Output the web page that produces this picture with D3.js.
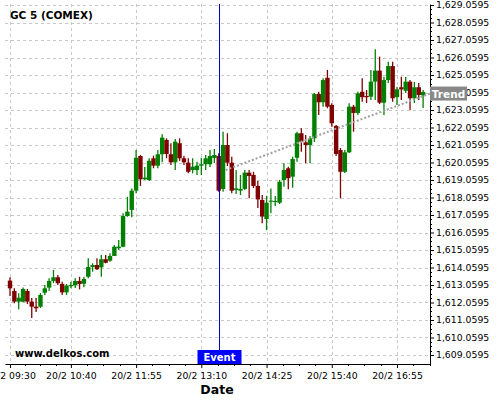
<!DOCTYPE html>
<html><head><meta charset="utf-8">
<script src="https://cdn.jsdelivr.net/npm/d3@7"></script>
<style>body{margin:0;background:#fff}svg{display:block}text{font-family:"DejaVu Sans",sans-serif}</style>
</head><body>
<svg id="c" width="500" height="400"></svg>
<script>
const times = ["09:30","09:35","09:40","09:45","09:50","09:55",
"10:00","10:05","10:10","10:15","10:20","10:25","10:30","10:35","10:40","10:45","10:50","10:55",
"11:00","11:05","11:10","11:15","11:20","11:25","11:30","11:35","11:40","11:45","11:50","11:55",
"12:00","12:05","12:10","12:15","12:20","12:25","12:30","12:35","12:40","12:45","12:50","12:55",
"13:00","13:05","13:10","13:15","13:20","13:25","13:30","13:35","13:40","13:45","13:50","13:55",
"14:00","14:05","14:10","14:15","14:20","14:25","14:30","14:35","14:40","14:45","14:50","14:55",
"15:00","15:05","15:10","15:15","15:20","15:25","15:30","15:35","15:40","15:45","15:50","15:55",
"16:00","16:05","16:10","16:15","16:20","16:25","16:30","16:35","16:40","16:45","16:50","16:55",
"17:00","17:05","17:10","17:15","17:20","17:25"];
const open = [1613.31,1612.72,1612.11,1612.11,1612.72,1612.11,1611.82,1611.82,1612.62,1612.91,
1613.29,1613.50,1613.12,1612.64,1612.99,1613.04,1613.29,1613.13,1613.53,1614.09,
1614.20,1614.07,1614.53,1614.45,1614.72,1615.16,1615.25,1617.00,1617.35,1618.45,
1620.43,1619.10,1619.06,1620.30,1619.88,1620.53,1621.35,1620.53,1620.07,1621.16,
1620.30,1620.05,1619.63,1619.63,1619.88,1619.96,1619.96,1620.32,1620.43,1618.55,
1621.06,1620.05,1618.49,1618.45,1618.55,1619.48,1619.35,1618.72,1617.92,1616.83,
1617.82,1617.80,1617.76,1619.06,1619.73,1619.25,1620.33,1621.73,1621.21,1621.06,
1621.44,1623.97,1623.50,1624.90,1623.35,1622.15,1620.77,1619.53,1620.64,1623.25,
1622.89,1624.10,1623.86,1623.82,1624.68,1625.31,1623.48,1624.77,1625.57,1623.79,
1624.36,1624.16,1624.68,1623.73,1624.36,1623.90];
const high = [1613.50,1612.87,1612.59,1612.91,1612.83,1612.32,1612.32,1612.60,1613.06,1613.44,
1613.92,1613.63,1613.25,1613.12,1613.25,1613.44,1613.53,1613.53,1614.59,1614.30,
1614.59,1614.77,1614.77,1614.87,1615.35,1615.63,1617.16,1618.10,1618.58,1620.77,
1620.49,1619.80,1620.30,1620.45,1620.77,1621.67,1621.44,1621.16,1621.40,1621.44,
1620.45,1620.30,1620.30,1620.10,1620.33,1620.49,1620.77,1620.83,1620.59,1621.82,
1621.73,1620.39,1619.63,1619.35,1619.63,1619.63,1619.53,1619.00,1618.20,1618.15,
1618.58,1618.14,1619.06,1620.01,1619.82,1620.39,1621.82,1622.01,1621.63,1621.57,
1624.03,1624.10,1624.87,1625.35,1623.44,1622.20,1620.89,1620.77,1623.44,1623.35,
1624.10,1624.87,1624.20,1625.35,1626.53,1626.11,1624.96,1625.82,1625.82,1624.39,
1624.96,1624.95,1624.77,1624.66,1624.60,1624.20];
const low = [1612.43,1612.01,1611.67,1612.07,1611.97,1611.17,1611.52,1611.75,1612.49,1612.72,
1613.17,1613.06,1612.49,1612.49,1612.87,1612.89,1612.81,1612.93,1613.44,1613.82,
1613.92,1613.53,1614.30,1614.39,1614.72,1615.06,1615.21,1616.96,1616.93,1618.30,
1618.72,1619.06,1619.00,1619.73,1619.73,1620.07,1620.30,1619.92,1619.63,1620.15,
1619.92,1619.44,1619.44,1619.35,1619.35,1619.63,1619.80,1620.03,1618.39,1618.39,
1619.86,1618.30,1618.26,1618.20,1618.49,1618.01,1618.60,1617.46,1616.59,1616.20,
1617.16,1617.57,1617.69,1618.68,1618.53,1618.62,1620.10,1620.68,1620.01,1620.01,
1621.23,1622.77,1623.25,1623.16,1622.10,1620.43,1618.01,1619.46,1620.60,1621.82,
1622.77,1623.53,1623.46,1623.63,1623.63,1623.40,1622.77,1624.60,1623.53,1623.35,
1623.63,1624.03,1623.06,1623.46,1623.63,1623.17];
const close = [1612.87,1612.11,1612.33,1612.83,1612.11,1611.82,1611.73,1612.49,1612.87,1613.29,
1613.50,1613.16,1612.64,1613.02,1613.06,1613.29,1613.12,1613.40,1614.09,1614.20,
1613.96,1614.53,1614.33,1614.72,1615.25,1615.25,1617.00,1617.25,1618.45,1620.33,
1619.10,1619.19,1620.16,1619.88,1620.53,1621.48,1620.55,1620.07,1621.25,1620.30,
1620.07,1619.53,1619.82,1619.88,1619.96,1620.30,1620.43,1620.49,1618.45,1621.06,
1620.05,1618.45,1618.58,1618.55,1619.48,1619.29,1618.72,1617.95,1616.97,1617.76,
1617.88,1617.86,1618.96,1619.63,1619.16,1620.26,1621.73,1621.25,1621.06,1621.44,
1623.97,1623.50,1624.77,1623.25,1622.30,1620.55,1619.53,1620.64,1623.25,1622.89,
1624.01,1623.79,1623.79,1624.68,1625.31,1623.48,1624.77,1625.57,1623.73,1624.24,
1624.24,1624.68,1623.73,1624.36,1623.92,1624.09];
const yTickValues = [1609.0595,1610.0595,1611.0595,1612.0595,1613.0595,1614.0595,1615.0595,
1616.0595,1617.0595,1618.0595,1619.0595,1620.0595,1621.0595,1622.0595,1623.0595,1624.0595,
1625.0595,1626.0595,1627.0595,1628.0595,1629.0595];
const xTickTimes = ["09:30","10:40","11:55","13:10","14:25","15:40","16:55"];
const xTickLabels = ["20/2 09:30","20/2 10:40","20/2 11:55","20/2 13:10","20/2 14:25","20/2 15:40","20/2 16:55"];
const eventTime = "13:30";
const trendTimes = ["13:38","17:33"];
const trendValues = [1619.63,1624.00];
const title = "GC 5 (COMEX)";

const parse = d3.timeParse("%H:%M");
const svg = d3.select("#c");
const L = 5, R = 430, T = 4, B = 364;

const x0 = d3.scaleTime().domain([parse("09:30"), parse("16:55")]).range([10, 397]);
const x = d3.scaleTime().domain([x0.invert(L), x0.invert(R)]).range([L, R]);
const y0 = d3.scaleLinear().domain([1609.0595, 1629.0595]).range([355, 5]);
const y = d3.scaleLinear().domain([y0.invert(B), y0.invert(T)]).range([B, T]);

const grid = svg.append("g").attr("stroke", "#c8c8c8").attr("stroke-dasharray", "3,3").attr("stroke-width", 1);
yTickValues.forEach(v => {
  const yy = Math.round(y(v)) + 0.5;
  grid.append("line").attr("x1", L).attr("x2", R).attr("y1", yy).attr("y2", yy);
});
xTickTimes.forEach(t => {
  const xx = Math.round(x(parse(t))) + 0.5;
  grid.append("line").attr("x1", xx).attr("x2", xx).attr("y1", T).attr("y2", B);
});

// candles
const data = times.map((t, i) => ({t: parse(t), o: open[i], h: high[i], l: low[i], c: close[i]}));
const cg = svg.append("g");
data.forEach(d => {
  const col = d.c >= d.o ? "#008000" : "#800000";
  const cx = x(d.t);
  cg.append("line").attr("x1", cx).attr("x2", cx).attr("y1", y(d.h)).attr("y2", y(d.l))
    .attr("stroke", col).attr("stroke-width", 1.3);
  const top = y(Math.max(d.o, d.c)), bot = y(Math.min(d.o, d.c));
  cg.append("rect").attr("x", cx - 2.2).attr("width", 4.4).attr("y", top)
    .attr("height", Math.max(1, bot - top)).attr("fill", col);
});

// trend line
svg.append("line")
  .attr("x1", x(parse(trendTimes[0]))).attr("y1", y(trendValues[0]))
  .attr("x2", x(parse(trendTimes[1]))).attr("y2", y(trendValues[1]))
  .attr("stroke", "#a0a0a0").attr("stroke-width", 2).attr("stroke-dasharray", "2,2");

// event line
const ex = Math.round(x(parse(eventTime))) + 0.5;
svg.append("line").attr("x1", ex).attr("x2", ex).attr("y1", T).attr("y2", B)
  .attr("stroke", "#0000cc").attr("stroke-width", 1);

// axes
const yAxis = d3.axisRight(y).tickValues(yTickValues).tickFormat(d3.format(",.4f")).tickSize(4).tickSizeOuter(0);
const ya = svg.append("g").attr("transform", `translate(${R},0)`).call(yAxis);
ya.selectAll("text").attr("font-size", "9.3px").attr("fill", "#000").attr("x", 6);
ya.select(".domain").attr("stroke", "#000");
// y minor ticks
const yMinor = [];
for (let k = 0; k < yTickValues.length - 1; k++) {
  for (let j = 1; j < 4; j++) yMinor.push(yTickValues[k] + (yTickValues[k + 1] - yTickValues[k]) * j / 4);
}
svg.append("g").selectAll("line").data(yMinor).join("line")
  .attr("x1", R).attr("x2", R + 2).attr("y1", d => Math.round(y(d)) + 0.5).attr("y2", d => Math.round(y(d)) + 0.5)
  .attr("stroke", "#000");

const xAxis = d3.axisBottom(x).tickValues(xTickTimes.map(parse))
  .tickFormat((d, i) => xTickLabels[i]).tickSize(4).tickSizeOuter(0);
const xa = svg.append("g").attr("transform", `translate(0,${B})`).call(xAxis);
xa.selectAll("text").attr("font-size", "9.3px").attr("fill", "#000").attr("dy", "0.85em");
xa.select(".domain").attr("stroke", "#000");
// x minor ticks (quarters between major ticks, extended to the right edge)
const xt = xTickTimes.map(t => x(parse(t)));
const xMinor = [];
for (let k = 0; k < xt.length - 1; k++) for (let j = 1; j < 4; j++) xMinor.push(xt[k] + (xt[k + 1] - xt[k]) * j / 4);
const lastStep = (xt[xt.length - 1] - xt[xt.length - 2]) / 4;
for (let p = xt[xt.length - 1] + lastStep; p <= R; p += lastStep) xMinor.push(p);
svg.append("g").selectAll("line").data(xMinor).join("line")
  .attr("x1", d => Math.round(d) + 0.5).attr("x2", d => Math.round(d) + 0.5).attr("y1", B).attr("y2", B + 2)
  .attr("stroke", "#000");

// labels
svg.append("text").attr("x", 10).attr("y", 19).attr("font-size", "10.5px").attr("font-weight", "bold").text(title);
svg.append("text").attr("x", 15).attr("y", 357).attr("font-size", "10px").attr("font-weight", "bold").text("www.delkos.com");
svg.append("text").attr("x", 217).attr("y", 394).attr("font-size", "12.5px").attr("font-weight", "bold")
  .attr("text-anchor", "middle").text("Date");

// event box
svg.append("rect").attr("x", ex - 22).attr("y", 350).attr("width", 44).attr("height", 14).attr("fill", "#0000ff");
svg.append("text").attr("x", ex).attr("y", 361).attr("text-anchor", "middle").attr("font-size", "10px")
  .attr("font-weight", "bold").attr("fill", "#fff").text("Event");

// trend label
const ty = y(trendValues[1]);
svg.append("rect").attr("x", R).attr("y", ty - 7).attr("width", 37).attr("height", 14).attr("fill", "#888");
svg.append("text").attr("x", R + 18.5).attr("y", ty + 4).attr("text-anchor", "middle").attr("font-size", "10.5px")
  .attr("font-weight", "bold").attr("fill", "#fff").text("Trend");
</script>
</body></html>
